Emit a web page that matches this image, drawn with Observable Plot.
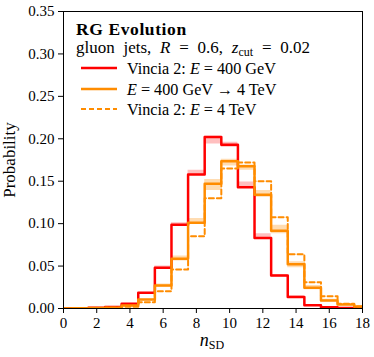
<!DOCTYPE html>
<html>
<head>
<meta charset="utf-8">
<script src="https://cdn.jsdelivr.net/npm/d3@7"></script>
<script src="https://cdn.jsdelivr.net/npm/@observablehq/plot@0.6"></script>
<style>
  html, body { margin: 0; padding: 0; background: #fff; }
  #chart { width: 374px; height: 357px; }
  #chart svg, #chart svg text { font-family: "Liberation Serif", "Times New Roman", serif !important; }
</style>
</head>
<body>
<div id="chart"></div>
<script>
// n_SD bins (centres), 0..18
const bins = [0,1,2,3,4,5,6,7,8,9,10,11,12,13,14,15,16,17,18];

// Vincia 2: E = 400 GeV (red)
const red = [0, 0.0003, 0.001, 0.0018, 0.0055, 0.0185, 0.048, 0.0986, 0.158, 0.202, 0.193, 0.143, 0.083, 0.0389, 0.0135, 0.0038, 0.0015, 0.0005, 0.0002];
const redLo = [0, 0.0003, 0.001, 0.0018, 0.0053, 0.018, 0.047, 0.097, 0.157, 0.194, 0.190, 0.143, 0.082, 0.037, 0.013, 0.0036, 0.0015, 0.0005, 0.0002];
const redHi = [0, 0.0003, 0.001, 0.0018, 0.0058, 0.019, 0.050, 0.101, 0.163, 0.203, 0.196, 0.149, 0.088, 0.040, 0.015, 0.0040, 0.0015, 0.0005, 0.0002];

// E = 400 GeV -> 4 TeV (orange, RG evolved, with band)
const orange = [0, 0.0002, 0.0005, 0.001, 0.0035, 0.0105, 0.027, 0.0585, 0.101, 0.147, 0.1736, 0.1677, 0.134, 0.0915, 0.052, 0.0244, 0.0094, 0.0047, 0.0024];
const orangeLo = [0, 0.0002, 0.0005, 0.001, 0.003, 0.009, 0.025, 0.056, 0.099, 0.139, 0.168, 0.163, 0.131, 0.088, 0.048, 0.022, 0.008, 0.004, 0.002];
const orangeHi = [0, 0.0002, 0.0005, 0.001, 0.004, 0.011, 0.029, 0.062, 0.106, 0.152, 0.176, 0.169, 0.139, 0.098, 0.055, 0.027, 0.011, 0.005, 0.0027];

// Vincia 2: E = 4 TeV (orange dashed)
const dashed = [0, 0.0001, 0.0003, 0.0008, 0.002, 0.0075, 0.0204, 0.046, 0.085, 0.130, 0.165, 0.172, 0.150, 0.1076, 0.064, 0.031, 0.0145, 0.0055, 0.0025];

const xTicks = [0,2,4,6,8,10,12,14,16,18];
const yTicks = [0,0.05,0.10,0.15,0.20,0.25,0.30,0.35];

// step tables built from the arrays (bin edges at centre +/- 0.5)
function steps(vals) {
  const out = [];
  bins.forEach((b, i) => { out.push({x: b - 0.5, y: vals[i]}); out.push({x: b + 0.5, y: vals[i]}); });
  return out;
}
function bandSteps(lo, hi) {
  const out = [];
  bins.forEach((b, i) => { out.push({x: b - 0.5, lo: lo[i], hi: hi[i]}); out.push({x: b + 0.5, lo: lo[i], hi: hi[i]}); });
  return out;
}

const RED = "#ff0000", ORANGE = "#ff8c00";
const FONT = "Liberation Serif, serif";

const svg = Plot.plot({
  width: 374, height: 357,
  marginLeft: 63, marginRight: 12, marginTop: 11, marginBottom: 49,
  style: {fontFamily: FONT, fontSize: "15px", color: "#000", background: "#fff"},
  x: {domain: [0, 18]},
  y: {domain: [0, 0.35]},
  marks: [
    Plot.areaY(bandSteps(redLo, redHi), {x: "x", y1: "lo", y2: "hi", fill: RED, fillOpacity: 0.25, clip: true}),
    Plot.areaY(bandSteps(orangeLo, orangeHi), {x: "x", y1: "lo", y2: "hi", fill: ORANGE, fillOpacity: 0.3, clip: true}),
    Plot.line(steps(red), {x: "x", y: "y", stroke: RED, strokeWidth: 2.5, clip: true}),
    Plot.line(steps(orange), {x: "x", y: "y", stroke: ORANGE, strokeWidth: 2.5, clip: true}),
    Plot.line(steps(dashed), {x: "x", y: "y", stroke: ORANGE, strokeWidth: 2, strokeDasharray: "5,3", clip: true}),
    Plot.frame({stroke: "#000", strokeWidth: 1}),
    Plot.axisX({ticks: xTicks, tickSize: 5, tickPadding: 4, tickFormat: d => String(d), label: null, fontSize: 15}),
    Plot.axisY({ticks: yTicks, tickSize: 5, tickPadding: 4, tickFormat: d3.format(".2f"), label: null, fontSize: 15})
  ]
});

document.getElementById("chart").appendChild(svg);

// Annotations: legend, axis labels (text)
const s = d3.select(svg);
const g = s.append("g").attr("font-family", FONT).attr("fill", "#000").attr("text-anchor", "start");

g.append("text").attr("x", 76).attr("y", 35).attr("font-size", 17.5).attr("font-weight", "bold")
  .attr("letter-spacing", 0.6).text("RG Evolution");
const sub = g.append("text").attr("x", 76).attr("y", 53).attr("font-size", 17).attr("word-spacing", 4.5);
sub.append("tspan").text("gluon jets, ");
sub.append("tspan").attr("font-style", "italic").text("R");
sub.append("tspan").text(" = 0.6, ");
sub.append("tspan").attr("font-style", "italic").text("z");
sub.append("tspan").attr("font-size", 12).attr("dy", 3).text("cut");
sub.append("tspan").attr("dy", -3).text(" = 0.02");

const rows = [
  {y: 68, color: RED, dash: null, w: 2.5, parts: [["Vincia 2: ", false], ["E", true], [" = 400 GeV", false]]},
  {y: 89, color: ORANGE, dash: null, w: 2.5, parts: [["E", true], [" = 400 GeV → 4 TeV", false]]},
  {y: 109, color: ORANGE, dash: "5,3", w: 2, parts: [["Vincia 2: ", false], ["E", true], [" = 4 TeV", false]]}
];
rows.forEach(r => {
  const ln = g.append("line").attr("x1", 81).attr("x2", 117).attr("y1", r.y).attr("y2", r.y)
    .attr("stroke", r.color).attr("stroke-width", r.w);
  if (r.dash) ln.attr("stroke-dasharray", r.dash);
  const t = g.append("text").attr("x", 127).attr("y", r.y + 6).attr("font-size", 16.2);
  r.parts.forEach(([txt, it]) => {
    const sp = t.append("tspan").text(txt);
    if (it) sp.attr("font-style", "italic");
  });
});

// x label n_SD
const xl = g.append("text").attr("x", 212).attr("y", 346).attr("text-anchor", "middle").attr("font-size", 18);
xl.append("tspan").attr("font-style", "italic").text("n");
xl.append("tspan").attr("font-size", 12).attr("dy", 3).text("SD");

// y label
g.append("text").attr("transform", "translate(15,160) rotate(-90)").attr("text-anchor", "middle")
  .attr("font-size", 17).text("Probability");
</script>
</body>
</html>
